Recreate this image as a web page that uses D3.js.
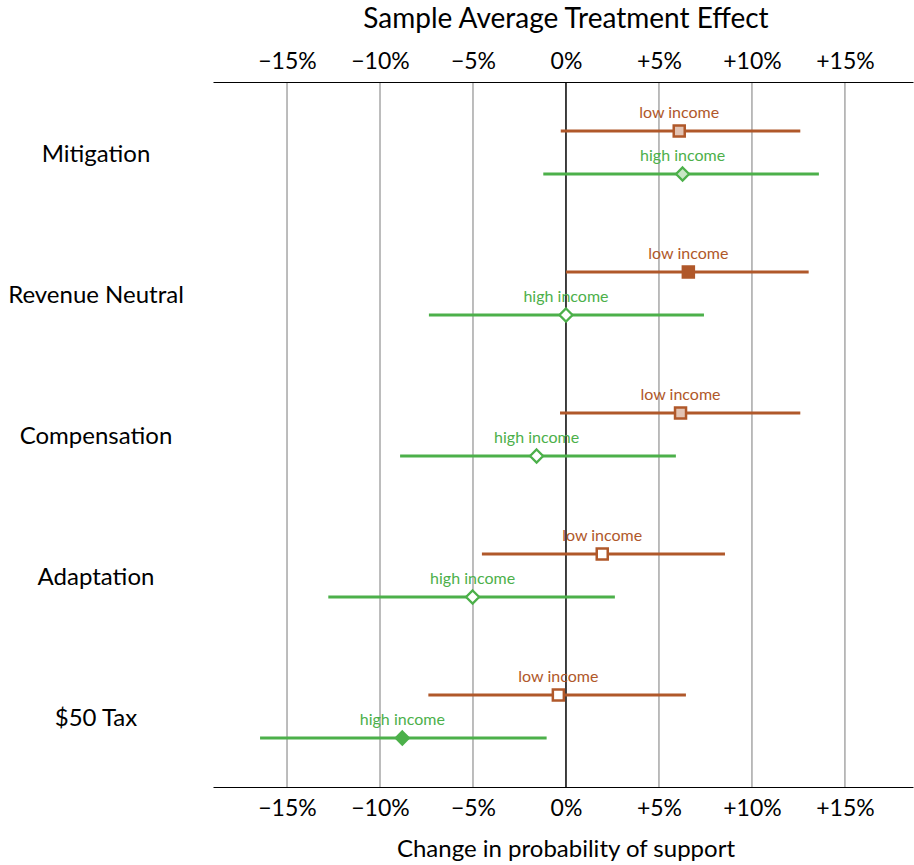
<!DOCTYPE html>
<html><head><meta charset="utf-8">
<script src="https://cdn.jsdelivr.net/npm/d3@7"></script>
<style>body{margin:0;background:#fff;}svg{display:block;font-family:Lato,"Open Sans",sans-serif;}</style>
</head><body>
<svg id="c" width="914" height="865"></svg>
<script>
const categories = ["Mitigation","Revenue Neutral","Compensation","Adaptation","$50 Tax"];
const groups = ["low income","high income"];
// estimates (%), lower and upper bounds per category
const lowEst  = [6.09, 6.58, 6.16, 1.95, -0.41];
const lowLo   = [-0.28, 0.0, -0.32, -4.52, -7.40];
const lowHi   = [12.6, 13.05, 12.6, 8.55, 6.45];
const lowFill = ["light","solid","light","none","none"];
const highEst  = [6.27, 0.0, -1.58, -5.02, -8.80];
const highLo   = [-1.22, -7.37, -8.92, -12.78, -16.45];
const highHi   = [13.6, 7.42, 5.91, 2.63, -1.04];
const highFill = ["light","none","none","none","solid"];
const tickValues = [-15,-10,-5,0,5,10,15];

(function(){
const svg = d3.select("#c");
const M = {left:213, right:913, top:82, bottom:787};
const x = d3.scaleLinear().domain([-18.98, 18.66]).range([M.left, M.right]);
const y = d3.scaleBand().domain(categories).range([M.top, M.bottom]);
const yg = d3.scalePoint().domain(groups).range([-21.5, 21.5]);
const fmt = v => v === 0 ? "0%" : (v > 0 ? "+" + v + "%" : "\u2212" + Math.abs(v) + "%");

const col = {"low income":{main:"#b0582a", light:"#e2c3b3"}, "high income":{main:"#4cb04a", light:"#c7e6c4"}};

svg.append("g").selectAll("line").data(tickValues).join("line")
  .attr("x1", d=>x(d)).attr("x2", d=>x(d)).attr("y1", M.top).attr("y2", M.bottom)
  .attr("stroke", d=> d===0 ? "#000" : "#999").attr("stroke-width", d=> d===0?1.5:1.3);

const axTop = svg.append("g").attr("transform",`translate(0,${M.top})`)
  .call(d3.axisTop(x).tickValues(tickValues).tickFormat(fmt).tickSize(0).tickPadding(13));
const axBot = svg.append("g").attr("transform",`translate(0,${M.bottom})`)
  .call(d3.axisBottom(x).tickValues(tickValues).tickFormat(fmt).tickSize(0).tickPadding(13));
[axTop,axBot].forEach(g=>{
  g.select(".domain").attr("stroke","#000").attr("stroke-width",1.2);
  g.selectAll("text").attr("font-size",23).attr("fill","#000").attr("font-family","Lato, sans-serif");
});

svg.append("text").attr("x", x(0)).attr("y", 28).attr("text-anchor","middle")
  .attr("font-size",28).text("Sample Average Treatment Effect");
svg.append("text").attr("x", x(0)).attr("y", 857).attr("text-anchor","middle")
  .attr("font-size",24).text("Change in probability of support");

svg.append("g").selectAll("text").data(categories).join("text")
  .attr("x", 96).attr("y", d=> y(d)+y.bandwidth()/2 + 1).attr("dy","0.35em")
  .attr("text-anchor","middle").attr("font-size",24).text(d=>d);

const rows = [];
categories.forEach((c,i)=>{
  rows.push({cat:c, g:"low income", est:lowEst[i], lo:lowLo[i], hi:lowHi[i], fill:lowFill[i]});
  rows.push({cat:c, g:"high income", est:highEst[i], lo:highLo[i], hi:highHi[i], fill:highFill[i]});
});
const cy = d => y(d.cat) + y.bandwidth()/2 + yg(d.g);

const gr = svg.append("g");
gr.selectAll("line.ci").data(rows).join("line").attr("class","ci")
  .attr("x1", d=>x(d.lo)).attr("x2", d=>x(d.hi)).attr("y1", cy).attr("y2", cy)
  .attr("stroke", d=>col[d.g].main).attr("stroke-width",3);

const fillOf = d => d.fill==="solid" ? col[d.g].main : d.fill==="light" ? col[d.g].light : "#fff";
gr.selectAll("rect.pt").data(rows.filter(d=>d.g==="low income")).join("rect").attr("class","pt")
  .attr("x", d=>x(d.est)-5.5).attr("y", d=>cy(d)-5.5).attr("width",11).attr("height",11)
  .attr("fill", fillOf).attr("stroke", d=>col[d.g].main).attr("stroke-width",2.5);
gr.selectAll("path.pt").data(rows.filter(d=>d.g==="high income")).join("path").attr("class","pt")
  .attr("d", d=>{const cx=x(d.est), yy=cy(d), r=6.5; return `M${cx},${yy-r}L${cx+r},${yy}L${cx},${yy+r}L${cx-r},${yy}Z`;})
  .attr("fill", fillOf).attr("stroke", d=>col[d.g].main).attr("stroke-width",2.3);

gr.selectAll("text.lab").data(rows).join("text").attr("class","lab")
  .attr("x", d=>x(d.est)).attr("y", d=>cy(d)-13)
  .attr("text-anchor","middle").attr("font-size",16).attr("fill", d=>col[d.g].main).text(d=>d.g);
})();
</script>
</body></html>
